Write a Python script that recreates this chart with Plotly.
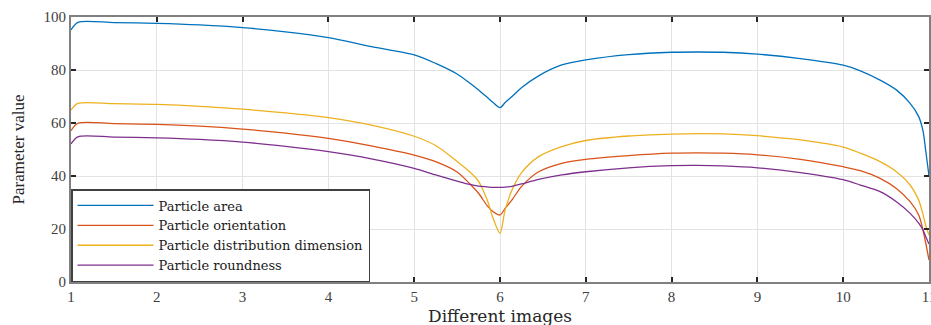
import plotly.graph_objects as go

x_images = [1, 1.08, 1.5, 2, 2.5, 3, 3.5, 4, 4.5, 5, 5.25, 5.5, 5.65, 5.75, 5.85, 5.92, 6,
            6.06, 6.14, 6.25, 6.45, 6.72, 7, 7.5, 8, 8.3, 8.6, 9, 9.5, 10, 10.2, 10.43,
            10.62, 10.78, 10.88, 10.93, 10.96, 11]

particle_area = [95.1, 98, 97.9, 97.6, 97, 96, 94.4, 92.2, 88.8, 85.7, 82.5, 78.5, 75, 72.5,
                 69.7, 67.7, 65.8, 67.7, 70, 73.3, 77.8, 81.9, 83.8, 85.8, 86.7, 86.8, 86.7,
                 86, 84.3, 81.8, 79.7, 76.2, 72.5, 67.4, 62.4, 57, 50, 40]

particle_orientation = [57.1, 59.9, 59.8, 59.5, 58.8, 57.7, 56.2, 54.2, 51.4, 47.9, 45.4, 41.5,
                        37, 33.5, 28.8, 26.5, 25.3, 27.8, 31, 36, 41.6, 44.8, 46.3, 47.7, 48.6,
                        48.7, 48.6, 48, 46.3, 43.5, 42, 39.1, 35.3, 30.3, 25.3, 19.6, 15, 8.3]

particle_distribution = [64.9, 67.4, 67.3, 67, 66.3, 65.2, 63.8, 62, 59.2, 55, 51.5, 45.5,
                         41.5, 38, 31, 24, 18.4, 27.2, 34.7, 41.2, 47.3, 51.1, 53.4, 55.1,
                         55.8, 56, 55.9, 55.2, 53.6, 50.9, 48.6, 45.4, 41.6, 36.6, 30.9, 25.5,
                         21.5, 17.7]

particle_roundness = [52.1, 54.8, 54.7, 54.4, 53.8, 52.8, 51.2, 49.2, 46.5, 42.9, 40.4, 38.1,
                      36.8, 36.2, 35.9, 35.7, 35.7, 35.8, 36.1, 37, 38.7, 40.4, 41.6, 43.1,
                      43.9, 44, 43.8, 43.1, 41.3, 38.6, 36.6, 34.1, 30.3, 25.9, 22.2, 19.6,
                      17.3, 14.3]

series = [
    ("Particle area", particle_area, "#0072BD"),
    ("Particle orientation", particle_orientation, "#D95319"),
    ("Particle distribution dimension", particle_distribution, "#EDB120"),
    ("Particle roundness", particle_roundness, "#7E2F8E"),
]

x_ticks = list(range(1, 12))
y_ticks = [0, 20, 40, 60, 80, 100]
x_title = "Different images"
y_title = "Parameter value"

fig = go.Figure()
for name, vals, col in series:
    fig.add_trace(go.Scatter(x=x_images, y=vals, name=name, mode="lines",
                             line=dict(color=col, width=1.3, shape="spline", smoothing=0.8)))

serif = "Liberation Serif, Times New Roman, serif"
wide_serif = "DejaVu Serif, serif"
fig.update_layout(
    width=931, height=325,
    margin=dict(l=71, r=2, t=17, b=43),
    paper_bgcolor="white", plot_bgcolor="white",
    font=dict(family=serif, size=15, color="#404040"),
    showlegend=True,
    legend=dict(x=0.0, y=0.0, xanchor="left", yanchor="bottom",
                bgcolor="white", bordercolor="#404040", borderwidth=1.5,
                font=dict(family=wide_serif, size=13, color="#1a1a1a"),
                tracegroupgap=0, itemwidth=76),
)
fig.add_annotation(text=x_title, xref="paper", yref="paper", x=0.5, y=0,
                   xanchor="center", yanchor="middle", yshift=-34, showarrow=False,
                   font=dict(family=wide_serif, size=17, color="#262626"))
fig.add_annotation(text=y_title, xref="paper", yref="paper", x=0, y=0.5,
                   xanchor="center", yanchor="middle", xshift=-53, textangle=-90,
                   showarrow=False, font=dict(family=serif, size=17, color="#262626"))
fig.update_xaxes(range=[1, 11], tickvals=x_ticks, ticktext=[str(v) for v in x_ticks],
                 automargin=False, ticklabeloverflow="allow",
                 showgrid=True, gridcolor="#e3e3e3", gridwidth=1,
                 showline=True, linecolor="#808080", linewidth=2, mirror="ticks",
                 ticks="inside", ticklen=5, tickcolor="#262626", tickwidth=1.5,
                 zeroline=False)
fig.update_yaxes(range=[0, 100], tickvals=y_ticks,
                 automargin=False,
                 showgrid=True, gridcolor="#e3e3e3", gridwidth=1,
                 showline=True, linecolor="#808080", linewidth=2, mirror="ticks",
                 ticks="inside", ticklen=5, tickcolor="#262626", tickwidth=1.5,
                 zeroline=False)

fig.write_html("out.html", config={"displayModeBar": False},
               post_script="document.body.style.margin='0';")
